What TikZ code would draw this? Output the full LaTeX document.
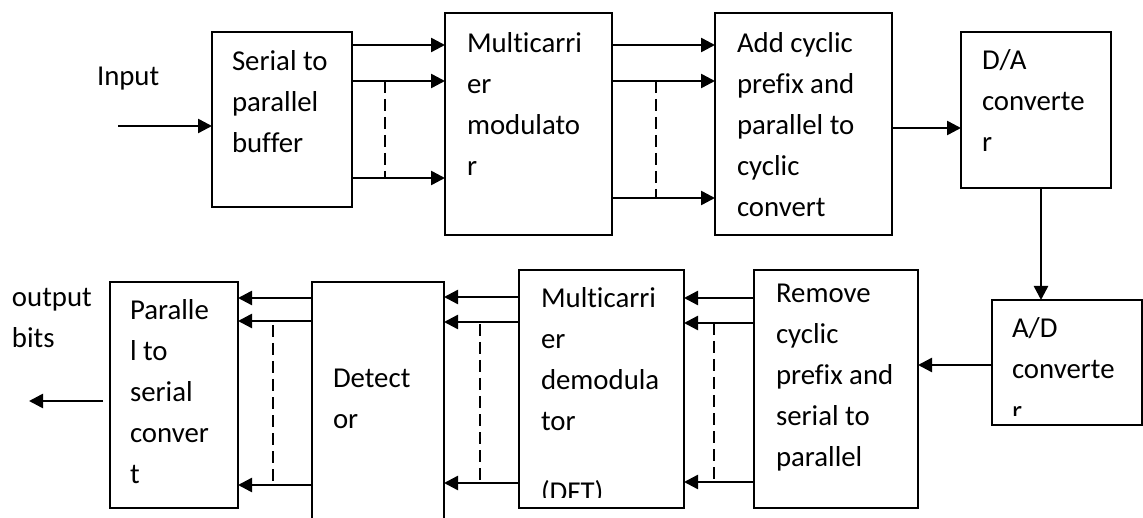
\documentclass[tikz,border=0pt]{standalone}
\usepackage{fontspec}
\setmainfont[Ligatures=NoCommon]{Carlito}
\usetikzlibrary{arrows.meta}

\begin{document}
\begin{tikzpicture}[x=1pt,y=-1pt]
            \tikzstyle{every node}+=[inner sep=0pt, outer sep=0pt]
            \tikzstyle{box}=[draw=black, line width=2pt, rectangle]
            \tikzstyle{txt}=[anchor=base west, text width=200pt, align=flush left, font=\fontsize{28.8}{41}\selectfont]
            \tikzstyle{arr}=[black, line width=2.5pt, -{Triangle[length=14pt,width=14pt]}]
            \tikzstyle{bus}=[black, line width=1.6pt, dash pattern=on 12pt off 6pt]
            \path [use as bounding box, clip] (0,0) rectangle (1143,518);
            \node [box, minimum width=140, minimum height=175] (s2p) at (282,119.5) {};
            \node [box, minimum width=167, minimum height=222] (mcm) at (528.5,124) {};
            \node [box, minimum width=177, minimum height=222] (acp) at (803.5,124) {};
            \node [box, minimum width=150, minimum height=156] (dac) at (1036,110) {};
            \node [box, minimum width=150, minimum height=125] (adc) at (1067,362.5) {};
            \node [box, minimum width=164, minimum height=238] (rcp) at (836,389) {};
            \node [box, minimum width=165, minimum height=238] (mcd) at (601.5,389) {};
            \node [box, minimum width=132, minimum height=270] (det) at (378,417) {};
            \node [box, minimum width=128, minimum height=226] (p2s) at (174,395) {};
            \node [txt] (inp) at (97,86) {Input};
            \node [txt] (outb) at (12,307) {output\\bits};
            \node [txt] (s2pt) at (232,71) {Serial to\\parallel\\buffer};
            \node [txt] (mcmt) at (467,53) {Multicarri\\er\\modulato\\r};
            \node [txt] (acpt) at (737,53) {Add cyclic\\prefix and\\parallel to\\cyclic\\convert};
            \node [txt] (dact) at (982,70) {D/A\\converte\\r};
            \begin{scope}
            \clip (992,300) rectangle (1142,415);
            \node [txt] (adct) at (1012,338) {A/D\\converte\\r};
            \end{scope}
            \node [txt] (rcpt) at (776,303) {Remove\\cyclic\\prefix and\\serial to\\parallel};
            \node [txt] (mcdt) at (541,308) {Multicarri\\er\\demodula\\tor};
            \begin{scope}
            \clip (519,270) rectangle (684,497);
            \node [txt] (dft) at (541,501) {(DFT)};
            \end{scope}
            \node [txt] (dett) at (333,388) {Detect\\or};
            \node [txt] (p2st) at (130,320) {Paralle\\l to\\serial\\conver\\t};
            \coordinate (in) at (118,126);
            \coordinate (out) at (29,401);
            \coordinate (da) at (1041,0);
            \draw [arr] (in) -- (s2p.west |- in);
            \draw [arr] (s2p.east |- 0,45) -- (mcm.west |- 0,45);
            \draw [arr] (s2p.east |- 0,81) -- (mcm.west |- 0,81);
            \draw [arr] (s2p.east |- 0,178) -- (mcm.west |- 0,178);
            \draw [bus] (385,81) -- (385,178);
            \draw [arr] (mcm.east |- 0,45) -- (acp.west |- 0,45);
            \draw [arr] (mcm.east |- 0,81) -- (acp.west |- 0,81);
            \draw [arr] (mcm.east |- 0,198) -- (acp.west |- 0,198);
            \draw [bus] (656,81) -- (656,198);
            \draw [arr] (acp.east |- 0,128) -- (dac.west |- 0,128);
            \draw [arr] (dac.south -| da) -- (adc.north -| da);
            \draw [arr] (adc.west |- 0,365) -- (rcp.east |- 0,365);
            \draw [arr] (rcp.west |- 0,298) -- (mcd.east |- 0,298);
            \draw [arr] (rcp.west |- 0,323) -- (mcd.east |- 0,323);
            \draw [arr] (rcp.west |- 0,482) -- (mcd.east |- 0,482);
            \draw [bus] (714,323) -- (714,482);
            \draw [arr] (mcd.west |- 0,297) -- (det.east |- 0,297);
            \draw [arr] (mcd.west |- 0,322) -- (det.east |- 0,322);
            \draw [arr] (mcd.west |- 0,483) -- (det.east |- 0,483);
            \draw [bus] (480,324) -- (480,483);
            \draw [arr] (det.west |- 0,298) -- (p2s.east |- 0,298);
            \draw [arr] (det.west |- 0,321) -- (p2s.east |- 0,321);
            \draw [arr] (det.west |- 0,485) -- (p2s.east |- 0,485);
            \draw [bus] (273,325) -- (273,485);
            \draw [arr, shorten <=7pt] (p2s.west |- out) -- (out);
\end{tikzpicture}
\end{document}
